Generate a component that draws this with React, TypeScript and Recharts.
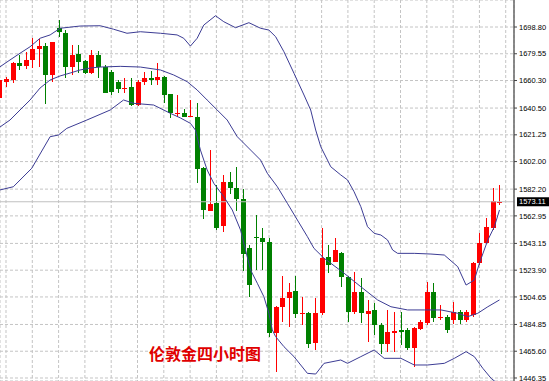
import React from 'react';
import { ComposedChart, Bar, Line, XAxis, YAxis, CartesianGrid, ReferenceLine } from 'recharts';

// Candle index -1 .. 75 (4-hour bars)
const opens = [
  1647.7, 1659.2, 1660.7, 1673.1, 1671.0, 1675.1, 1682.8, 1685.1, 1664.3, 1697.9,
  1694.5, 1670.2, 1679.4, 1674.3, 1665.5, 1678.7, 1670.2, 1666.7, 1659.5, 1654.0,
  1655.4, 1642.7, 1659.0, 1661.9, 1660.7, 1663.0, 1650.4, 1636.2, 1636.7, 1634.3,
  1634.3, 1597.6, 1566.7, 1572.0, 1555.7, 1587.1, 1582.8, 1575.1, 1539.8, 1547.8,
  1546.8, 1544.4, 1478.5, 1497.6, 1503.7, 1509.1, 1492.9, 1492.9, 1471.3, 1492.9,
  1533.6, 1530.0, 1536.0, 1519.2, 1494.0, 1508.4, 1492.4, 1495.2, 1484.5, 1470.8,
  1478.5, 1480.9, 1480.9, 1467.7, 1481.4, 1485.7, 1508.4, 1489.3, 1490.4, 1488.1,
  1494.0, 1488.1, 1491.7, 1529.0, 1543.7, 1554.0, 1572.0,
];
const highs = [
  1661.5, 1662.8, 1673.9, 1678.7, 1681.0, 1690.7, 1690.0, 1687.1, 1688.2, 1703.8,
  1696.6, 1685.9, 1685.9, 1675.1, 1682.3, 1681.8, 1671.2, 1667.9, 1660.7, 1661.9,
  1661.9, 1660.7, 1666.7, 1667.4, 1672.7, 1663.6, 1650.6, 1649.9, 1639.8, 1646.3,
  1644.1, 1598.3, 1610.3, 1585.2, 1592.4, 1594.7, 1598.3, 1582.0, 1542.0, 1563.6,
  1554.2, 1547.0, 1498.1, 1519.7, 1514.5, 1519.7, 1504.8, 1493.8, 1503.7, 1554.2,
  1542.0, 1547.0, 1537.2, 1519.7, 1522.8, 1518.0, 1502.5, 1500.1, 1486.1, 1495.2,
  1494.0, 1494.0, 1482.1, 1483.2, 1488.1, 1515.6, 1514.5, 1498.9, 1491.7, 1501.2,
  1495.2, 1495.2, 1530.0, 1550.4, 1561.2, 1582.8, 1585.2,
];
const lows = [
  1646.5, 1655.6, 1658.7, 1667.9, 1669.1, 1669.1, 1670.2, 1643.4, 1659.5, 1691.4,
  1662.0, 1664.3, 1665.5, 1665.0, 1665.0, 1662.6, 1651.1, 1649.9, 1651.1, 1651.1,
  1642.0, 1642.0, 1657.1, 1657.1, 1657.1, 1643.9, 1633.1, 1634.1, 1633.8, 1634.1,
  1586.4, 1560.7, 1566.7, 1552.8, 1551.6, 1579.2, 1566.7, 1522.8, 1504.8, 1524.0,
  1524.0, 1475.6, 1450.9, 1486.8, 1483.2, 1489.3, 1484.5, 1467.7, 1466.0, 1491.7,
  1521.6, 1529.8, 1512.0, 1486.8, 1492.9, 1485.7, 1472.5, 1477.3, 1464.1, 1465.3,
  1465.3, 1470.1, 1466.0, 1454.5, 1480.9, 1484.5, 1486.8, 1488.1, 1478.9, 1485.2,
  1485.2, 1486.8, 1490.4, 1527.6, 1543.2, 1552.8, 1570.8,
];
const closes = [
  1660.7, 1661.2, 1672.7, 1671.0, 1675.1, 1683.0, 1685.3, 1664.3, 1687.8, 1695.4,
  1670.0, 1678.7, 1673.8, 1665.9, 1678.7, 1670.2, 1651.5, 1652.3, 1654.0, 1655.1,
  1642.7, 1659.5, 1661.9, 1660.7, 1663.0, 1649.9, 1636.7, 1636.9, 1634.3, 1635.0,
  1596.5, 1567.2, 1571.3, 1554.5, 1587.1, 1582.8, 1574.9, 1535.5, 1513.2, 1546.8,
  1544.4, 1478.5, 1497.6, 1503.7, 1508.4, 1492.2, 1493.3, 1470.8, 1493.3, 1532.4,
  1527.6, 1538.4, 1519.2, 1494.0, 1508.4, 1492.9, 1494.5, 1484.5, 1470.8, 1479.6,
  1480.4, 1479.6, 1467.7, 1482.1, 1486.8, 1508.4, 1489.3, 1490.4, 1480.9, 1494.0,
  1488.1, 1494.0, 1528.8, 1543.7, 1554.7, 1573.6, 1573.11,
];

// Bollinger band traces: [bar index, price]
const upperBand: [number, number][] = [
  [-1.0, 1669.9], [0.61, 1675.1], [2.13, 1679.9], [3.66, 1684.6], [5.18, 1690.7],
  [6.71, 1693.1], [8.23, 1697.9], [11.28, 1699.5], [14.33, 1699.7], [16.36, 1697.2],
  [18.4, 1694.3], [20.43, 1695.4], [23.48, 1694.3], [26.02, 1693.1], [27.03, 1690.7],
  [28.05, 1685.1], [29.07, 1690.7], [30.08, 1700.2], [31.86, 1706.9], [33.12, 1702.6],
  [34.91, 1698.3], [36.94, 1701.9], [38.72, 1697.9], [39.98, 1696.6], [41.01, 1691.8],
  [42.27, 1681.0], [43.8, 1665.5], [45.32, 1649.9], [46.34, 1639.1], [47.1, 1624.7],
  [47.87, 1612.7], [48.89, 1603.1], [49.39, 1598.3], [50.91, 1592.4], [51.94, 1588.8],
  [52.94, 1580.3], [53.96, 1569.6], [54.98, 1555.2], [55.99, 1550.4], [57.01, 1549.2],
  [58.03, 1545.6], [58.8, 1538.4], [59.56, 1536.0], [62.09, 1536.0], [64.63, 1535.5],
  [66.66, 1534.8], [68.7, 1526.4], [69.97, 1513.2], [71.23, 1516.8], [72.0, 1528.9],
  [73.28, 1545.6], [74.28, 1555.2], [75.05, 1567.2],
];
const middleBand: [number, number][] = [
  [-1.0, 1626.6], [0.61, 1631.9], [2.13, 1639.1], [3.66, 1646.3], [5.18, 1654.9],
  [6.71, 1660.7], [8.23, 1663.6], [9.76, 1665.7], [11.28, 1667.9], [12.8, 1669.3],
  [14.33, 1670.0], [17.38, 1670.5], [20.43, 1670.0], [23.48, 1667.9], [25.5, 1664.3],
  [27.55, 1659.5], [29.07, 1653.5], [30.59, 1646.3], [32.12, 1639.1], [33.64, 1631.9],
  [35.17, 1619.9], [37.2, 1610.3], [38.72, 1603.1], [39.74, 1593.6], [41.27, 1583.9],
  [42.79, 1572.0], [44.31, 1560.0], [45.84, 1548.0], [46.84, 1539.6], [48.37, 1532.5],
  [49.39, 1528.9], [51.42, 1521.7], [53.96, 1512.0], [56.51, 1502.5], [58.54, 1497.6],
  [61.08, 1495.3], [63.61, 1495.3], [66.16, 1495.3], [68.7, 1492.9], [70.23, 1490.5],
  [71.75, 1492.9], [73.28, 1497.6], [75.05, 1502.5],
];
const lowerBand: [number, number][] = [
  [-1.0, 1581.5], [1.11, 1583.9], [3.92, 1597.2], [6.71, 1619.9], [7.97, 1621.1],
  [9.25, 1625.9], [12.3, 1631.9], [15.85, 1639.1], [17.88, 1646.3], [19.41, 1643.9],
  [22.45, 1642.7], [25.0, 1636.7], [26.52, 1633.4], [28.05, 1629.5], [28.81, 1624.7],
  [29.57, 1610.3], [30.59, 1596.0], [31.6, 1586.4], [33.12, 1576.8], [34.41, 1567.2],
  [35.67, 1552.8], [36.43, 1538.4], [37.2, 1524.0], [38.22, 1514.5], [39.22, 1504.8],
  [39.98, 1492.9], [40.5, 1480.9], [41.01, 1476.1], [42.27, 1468.9], [43.8, 1461.7],
  [45.84, 1449.7], [47.1, 1449.2], [48.37, 1456.9], [50.91, 1459.3], [51.94, 1456.9],
  [53.96, 1461.7], [55.99, 1466.5], [57.51, 1460.5], [60.06, 1460.5], [62.09, 1455.7],
  [64.13, 1455.7], [66.66, 1456.9], [68.19, 1460.5], [69.97, 1465.3], [71.23, 1461.7],
  [72.52, 1453.3], [73.78, 1446.1], [75.05, 1441.3],
];

const priceTicks = [
  1446.35, 1465.6, 1484.85, 1504.65, 1523.9, 1543.15, 1562.95, 1582.2,
  1602.0, 1621.25, 1640.5, 1660.3, 1679.55, 1698.8,
];
const gridBars = [0, 4, 8, 12, 16, 20, 24, 28, 32, 36, 40, 44, 48, 52, 56, 60, 64, 68, 72, 76];
const lastPrice = 1573.11;
const title = '伦敦金四小时图';

const UP = '#ff0000';
const DOWN = '#008000';
const BAND = '#3c3c94';

const candles = opens.map((o, j) => ({
  i: j - 1,
  open: o,
  high: highs[j],
  low: lows[j],
  close: closes[j],
}));

const toPts = (arr: [number, number][]) => arr.map(([i, v]) => ({ i, v }));

const Candle = (props: any) => {
  const { x, y, width, height, payload } = props;
  if (!payload) return null;
  const { open, close, high, low } = payload;
  const top = Math.min(y, y + height);
  const h = Math.abs(height);
  const py = (v: number) => top + ((high - v) / (high - low || 1)) * h;
  const cx = Math.round(x + width / 2);
  const color = close >= open ? UP : DOWN;
  const bTop = Math.round(py(Math.max(open, close)));
  const bBot = Math.round(py(Math.min(open, close)));
  return (
    <g>
      <rect x={cx} y={Math.round(top)} width={1} height={Math.max(1, Math.round(h))} fill={color} />
      <rect x={cx - 2} y={bTop} width={5} height={Math.max(1, bBot - bTop)} fill={color} />
    </g>
  );
};

const PriceTag = (props: any) => {
  const vb = props.viewBox || {};
  const x = (vb.x || 0) + (vb.width || 0);
  const y = vb.y || 0;
  return (
    <g>
      <rect x={x + 3} y={y - 4.5} width={32} height={9} fill="#000" />
      <text x={x + 5} y={y} dy="0.36em" fill="#fff" fontSize={7.5} fontFamily="Liberation Sans, Arial, sans-serif">
        {lastPrice.toFixed(2)}
      </text>
    </g>
  );
};

export default function App() {
  return (
    <div style={{ position: 'absolute', left: 0, top: 0, width: 549, height: 381, background: '#fff', overflow: 'hidden' }}>
      <ComposedChart width={549} height={381} data={candles} margin={{ top: 0, right: 0, bottom: 0, left: 0 }}>
        <CartesianGrid stroke="#c4c4c4" strokeDasharray="3 2" />
        <XAxis
          dataKey="i"
          type="number"
          domain={[-0.9125, 77.26]}
          ticks={gridBars}
          allowDataOverflow
          hide
        />
        <YAxis
          orientation="right"
          width={35}
          type="number"
          domain={[1444.19, 1718.22]}
          ticks={priceTicks}
          allowDataOverflow
          interval={0}
          tickSize={3}
          tickMargin={2}
          tickFormatter={(v: number) => v.toFixed(2)}
          tick={{ fontSize: 7.5, fill: '#000', fontFamily: 'Liberation Sans, Arial, sans-serif' }}
          axisLine={{ stroke: '#666', strokeWidth: 1.5 }}
          tickLine={{ stroke: '#444' }}
        />
        <ReferenceLine y={lastPrice} stroke="#c0c0c0" strokeWidth={1} label={<PriceTag />} />
        <Bar
          dataKey={(d: any) => [d.low, d.high]}
          barSize={5}
          shape={<Candle />}
          isAnimationActive={false}
        />
        <Line data={toPts(upperBand)} dataKey="v" type="linear" stroke={BAND} strokeWidth={1} dot={false} activeDot={false} isAnimationActive={false} />
        <Line data={toPts(middleBand)} dataKey="v" type="linear" stroke={BAND} strokeWidth={1} dot={false} activeDot={false} isAnimationActive={false} />
        <Line data={toPts(lowerBand)} dataKey="v" type="linear" stroke={BAND} strokeWidth={1} dot={false} activeDot={false} isAnimationActive={false} />
      </ComposedChart>
      <div
        style={{
          position: 'absolute',
          left: 149,
          top: 344,
          fontSize: 16,
          lineHeight: '18px',
          color: '#e00000',
          fontWeight: 'bold',
          fontFamily: '"Noto Sans CJK SC", sans-serif',
          whiteSpace: 'nowrap',
          letterSpacing: 0,
        }}
      >
        {title}
      </div>
    </div>
  );
}
